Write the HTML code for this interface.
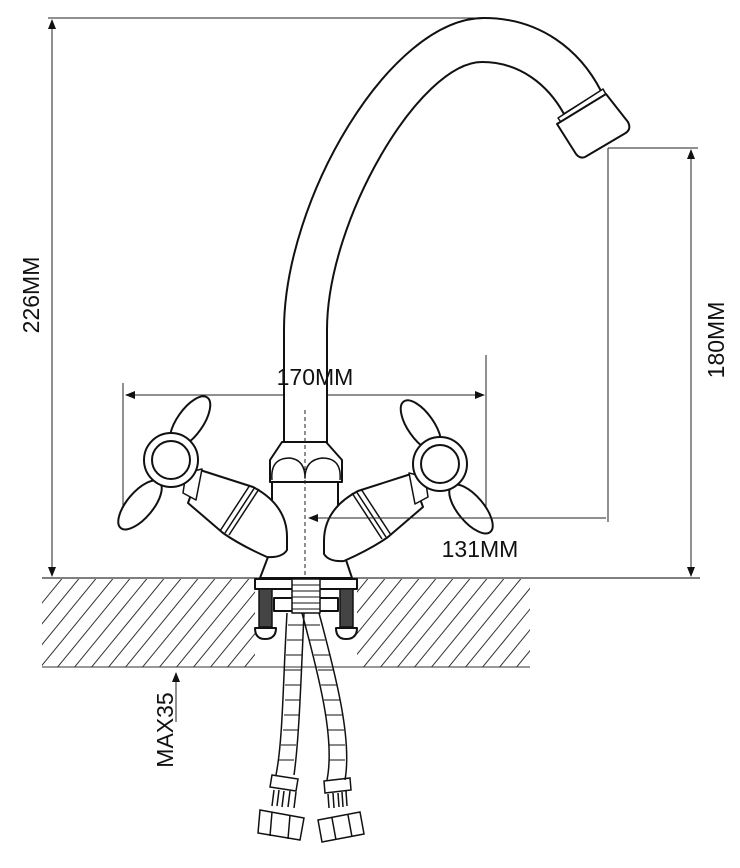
<!DOCTYPE html>
<html><head><meta charset="utf-8"><style>html,body{margin:0;padding:0;background:#fff}svg{display:block}</style></head>
<body>
<svg width="740" height="868" viewBox="0 0 740 868" xmlns="http://www.w3.org/2000/svg" font-family="Liberation Sans, sans-serif">
<defs>
<clipPath id="hc"><path d="M42,579 H255 V667 H42 Z M357,579 H530 V667 H357 Z"/></clipPath>
<marker id="ar" markerWidth="10" markerHeight="8" refX="9" refY="4" orient="auto-start-reverse" markerUnits="userSpaceOnUse"><path d="M0,0 L10,4 L0,8 Z" fill="#111"/></marker>
</defs>
<g stroke="#222" fill="none" stroke-width="1">
<line x1="48" y1="18" x2="490" y2="18"/>
<line x1="52" y1="20" x2="52" y2="576" marker-start="url(#ar)" marker-end="url(#ar)"/>
<line x1="42" y1="578" x2="700" y2="578" stroke="#555" stroke-width="1.5"/>
<line x1="691" y1="150" x2="691" y2="576" marker-start="url(#ar)" marker-end="url(#ar)"/>
<line x1="608" y1="148" x2="698" y2="148"/>
<line x1="608" y1="148" x2="608" y2="522"/>
<line x1="126" y1="395" x2="484" y2="395" marker-start="url(#ar)" marker-end="url(#ar)"/>
<line x1="123" y1="383" x2="123" y2="522"/>
<line x1="486" y1="355" x2="486" y2="522"/>
<line x1="42" y1="667" x2="530" y2="667" stroke="#777" stroke-width="1.5"/>
<line x1="176" y1="722" x2="176" y2="673" marker-end="url(#ar)"/>
</g>
<g clip-path="url(#hc)" stroke="#333" stroke-width="1">
<path d="M30,680 L120,570 M47,680 L137,570 M64,680 L154,570 M81,680 L171,570 M98,680 L188,570 M115,680 L205,570 M132,680 L222,570 M149,680 L239,570 M166,680 L256,570 M183,680 L273,570 M200,680 L290,570 M217,680 L307,570 M234,680 L324,570 M251,680 L341,570 M268,680 L358,570 M285,680 L375,570 M302,680 L392,570 M319,680 L409,570 M336,680 L426,570 M353,680 L443,570 M370,680 L460,570 M387,680 L477,570 M404,680 L494,570 M421,680 L511,570 M438,680 L528,570 M455,680 L545,570 M472,680 L562,570 M489,680 L579,570 M506,680 L596,570 M13,680 L103,570 M-4,680 L86,570 M-21,680 L69,570"/>
</g>
<g stroke="#111" fill="#fff" stroke-width="2" stroke-linejoin="round">
<path d="M284,444 L284,330 C284,200 390,18 484,18 C540,18 580,50 601,91 L564,114 C548,85 520,62 482,62 C420,62 327,220 327,330 L327,444" />
<path d="M558,118 L603,89 L608,98 L563,125 Z" stroke-width="1.5"/>
<path d="M557,124 L606,94 L628,122 Q632,130 624,134 L585,157 Q580,159 576,154 Z"/>
<!-- body -->
<path d="M272,482 L272,515 Q286,545 268,557 L260,578 L352,578 L345,557 Q322,545 338,515 L338,482 Z"/>
<path d="M282,442 L326,442 L342,460 L342,482 L270,482 L270,460 Z"/>
<path d="M272,480 Q270,458 290,458 Q305,460 305,478 Q305,460 322,458 Q342,458 340,480" fill="none" stroke-width="1.5"/>
<!-- valves -->
<g id="lv">
<path d="M200,470 L253,487 Q287,505 287,537 L287,550 Q282,558 267,557 Q240,545 223,533 L188,503 Z"/>
<path d="M250,485 L220,531 M255,487 L225,533 M259,489 L229,535" stroke-width="1.5" fill="none"/>
<path d="M186,473 L202,469 L196,500 L183,493 Z" stroke-width="1.5"/>
<ellipse cx="190" cy="422" rx="13" ry="30" transform="rotate(35 190 422)"/>
<ellipse cx="140" cy="505" rx="13" ry="30" transform="rotate(40 140 505)"/>
<circle cx="171" cy="460" r="27"/>
<circle cx="171" cy="460" r="19"/>
</g>
<g transform="translate(611,4) scale(-1,1)">
<path d="M200,470 L253,487 Q287,505 287,537 L287,550 Q282,558 267,557 Q240,545 223,533 L188,503 Z"/>
<path d="M250,485 L220,531 M255,487 L225,533 M259,489 L229,535" stroke-width="1.5" fill="none"/>
<path d="M186,473 L202,469 L196,500 L183,493 Z" stroke-width="1.5"/>
<ellipse cx="190" cy="422" rx="13" ry="30" transform="rotate(35 190 422)"/>
<ellipse cx="140" cy="505" rx="13" ry="30" transform="rotate(40 140 505)"/>
<circle cx="171" cy="460" r="27"/>
<circle cx="171" cy="460" r="19"/>
</g>
<!-- mount -->
<rect x="255" y="579" width="102" height="10"/>
<rect x="259" y="589" width="13" height="38" fill="#444" stroke-width="1.5"/>
<rect x="340" y="589" width="13" height="38" fill="#444" stroke-width="1.5"/>
<path d="M255,628 H276 Q276,639 265,639 Q255,639 255,628 Z"/>
<path d="M336,628 H357 Q357,639 346,639 Q336,639 336,628 Z"/>
<rect x="274" y="598" width="64" height="13"/>
<rect x="292" y="579" width="28" height="34" stroke-width="1.5"/>
<path d="M292,585 H320 M292,591 H320 M292,597 H320 M292,603 H320 M292,609 H320" stroke-width="1"/>
</g>
<g stroke="#222" fill="none" stroke-width="1">
<line x1="305" y1="410" x2="305" y2="578" stroke-dasharray="4,3"/>
<line x1="606" y1="518" x2="309" y2="518" marker-end="url(#ar)"/>
</g>
<g stroke="#111" fill="none" stroke-width="1.5">
<path d="M287,613 C283,680 283,740 276,775 M304,613 C301,680 299,740 294,775"/>
<path d="M302,613 C320,680 335,740 327,780 M319,613 C337,680 352,740 345,780"/>
<path d="M288,625 h16 M287,640 h16 M286,655 h16 M285,670 h16 M285,685 h15 M285,700 h15 M284,715 h15 M283,730 h15 M281,745 h15 M279,760 h15" stroke-width="1"/>
<path d="M304,625 h16 M309,640 h16 M314,655 h16 M318,670 h16 M321,685 h16 M324,700 h16 M326,715 h16 M328,730 h16 M329,745 h16 M329,760 h16" stroke-width="1"/>
<path d="M272,775 L298,779 L296,791 L270,787 Z M274,790 L272,806 M296,792 L294,808 M279,790 L277,806 M284,791 L282,807 M290,791 L288,807"/>
<path d="M324,781 L350,778 L351,790 L325,793 Z M328,794 L329,808 M346,791 L347,806 M333,793 L334,808 M338,793 L339,807 M342,792 L343,807"/>
<path d="M260,810 L304,818 L300,840 L258,833 Z M272,812 L270,836 M290,815 L288,839"/>
<path d="M318,820 L360,812 L364,834 L322,842 Z M332,818 L336,840 M348,815 L352,837"/>
</g>
<g fill="#111" font-size="23">
<text x="315" y="385" text-anchor="middle">170MM</text>
<text x="480" y="557" text-anchor="middle">131MM</text>
<text transform="translate(39,295) rotate(-90)" text-anchor="middle">226MM</text>
<text transform="translate(724,340) rotate(-90)" text-anchor="middle">180MM</text>
<text transform="translate(173,730) rotate(-90)" text-anchor="middle">MAX35</text>
</g>
</svg>
</body></html>
